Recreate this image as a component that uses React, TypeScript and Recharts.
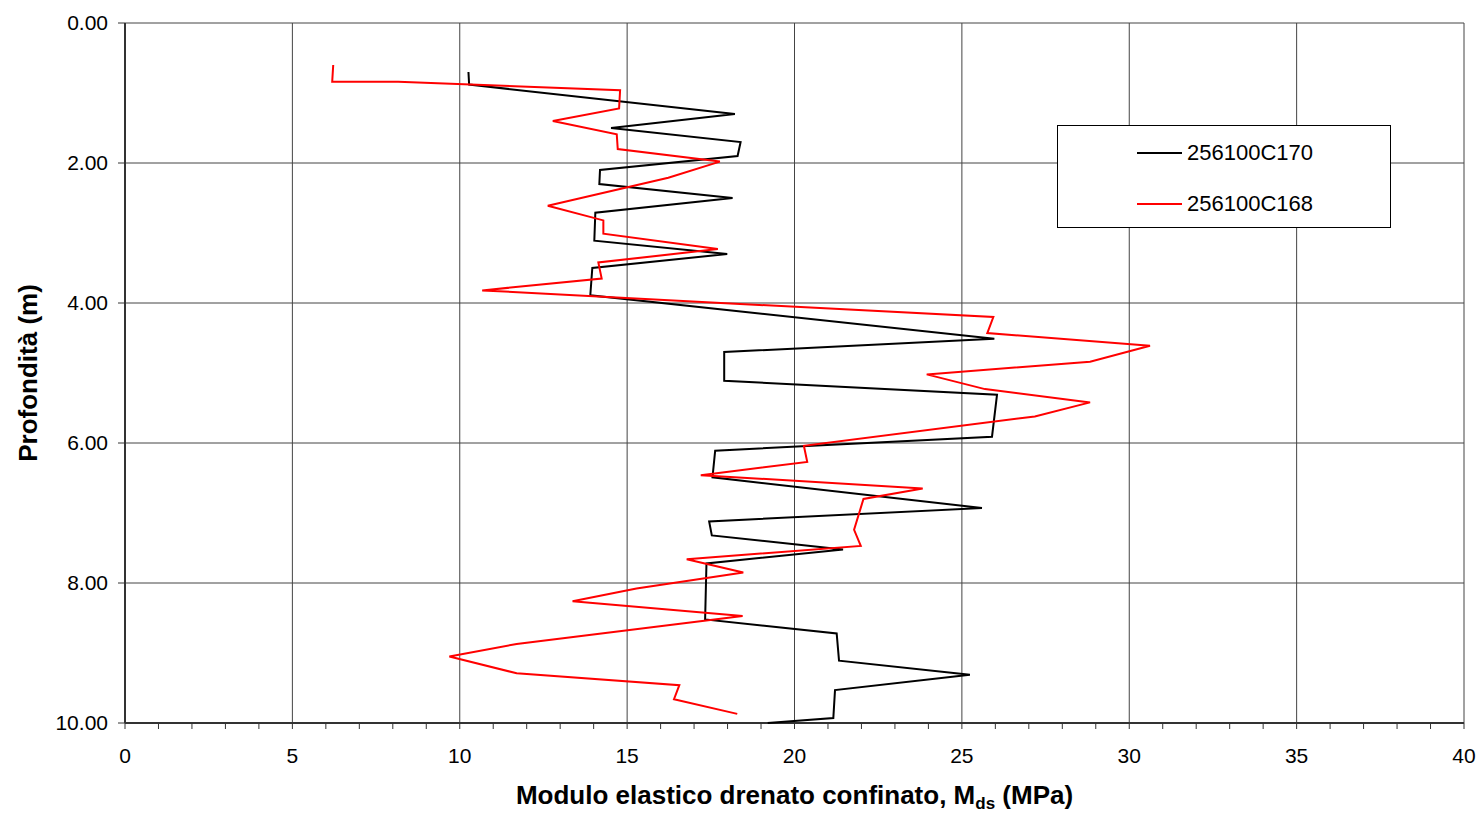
import React from 'react';
import {
  ScatterChart,
  Scatter,
  XAxis,
  YAxis,
  CartesianGrid,
  ReferenceLine,
} from 'recharts';

const FONT = '"Liberation Sans", Arial, sans-serif';

// axis ticks
const xTicks = Array.from({ length: 41 }, (_, i) => i);
const xGrid = [5, 10, 15, 20, 25, 30, 35, 40];
const yTicks = [0, 2, 4, 6, 8, 10];

// 256100C170 (black)
const depthC170 = [
  0.7, 0.88, 1.3, 1.5, 1.7, 1.9, 2.1, 2.3, 2.5, 2.71, 3.11, 3.3, 3.5, 3.89,
  4.51, 4.7, 5.11, 5.31, 5.91, 6.11, 6.49, 6.93, 7.12, 7.32, 7.52, 7.72, 8.52,
  8.72, 9.11, 9.31, 9.53, 9.93, 10.0,
];
const modC170 = [
  10.26, 10.28, 18.22, 14.52, 18.39, 18.3, 14.19, 14.17, 18.15, 14.05, 14.02,
  17.99, 13.96, 13.9, 25.97, 17.9, 17.9, 26.05, 25.9, 17.63, 17.55, 25.6,
  17.45, 17.53, 21.45, 17.37, 17.33, 21.26, 21.33, 25.24, 21.21, 21.16, 19.2,
];

// 256100C168 (red)
const depthC168 = [
  0.6, 0.84, 0.84, 0.96, 1.22, 1.4, 1.59, 1.8, 1.98, 2.21, 2.61, 2.82, 3.01,
  3.23, 3.42, 3.65, 3.82, 4.0, 4.2, 4.43, 4.61, 4.84, 5.02, 5.23, 5.42, 5.62,
  6.04, 6.27, 6.46, 6.65, 6.8, 7.24, 7.47, 7.66, 7.85, 8.08, 8.26, 8.47, 8.87,
  9.05, 9.29, 9.46, 9.66, 9.87,
];
const modC168 = [
  6.22, 6.19, 8.16, 14.79, 14.76, 12.78, 14.69, 14.72, 17.77, 16.23, 12.63,
  14.29, 14.29, 17.71, 14.14, 14.24, 10.67, 17.8, 25.94, 25.76, 30.62, 28.83,
  23.95, 25.69, 28.83, 27.18, 20.28, 20.38, 17.2, 23.83, 22.06, 21.78, 21.98,
  16.78, 18.47, 15.28, 13.37, 18.45, 11.7, 9.69, 11.7, 16.56, 16.4, 18.29,
];

const series = [
  { name: '256100C170', color: '#000000', depth: depthC170, mod: modC170 },
  { name: '256100C168', color: '#ff0000', depth: depthC168, mod: modC168 },
];

const toPoints = (depth: number[], mod: number[]) =>
  depth.map((d, i) => ({ m: mod[i], d }));

const XTick = ({ x, y, payload }: any) => {
  if (payload.value % 5 !== 0) return <g />;
  return (
    <text x={x} y={y} dy="0.71em" textAnchor="middle" fontSize={21} fontFamily={FONT} fill="#000">
      {payload.value}
    </text>
  );
};

const XTitle = ({ viewBox }: any) => {
  const cx = viewBox.x + viewBox.width / 2;
  return (
    <text x={cx} y={viewBox.y + 81} textAnchor="middle" fontSize={26} fontWeight="bold" fontFamily={FONT} fill="#000">
      <tspan>Modulo elastico drenato confinato, M</tspan>
      <tspan fontSize={17} dy={5}>ds</tspan>
      <tspan dy={-5}> (MPa)</tspan>
    </text>
  );
};

const YTitle = ({ viewBox }: any) => {
  const cy = viewBox.y + viewBox.height / 2;
  const x = 37;
  return (
    <text
      x={x}
      y={cy}
      transform={`rotate(-90, ${x}, ${cy})`}
      textAnchor="middle"
      fontSize={26}
      fontWeight="bold"
      fontFamily={FONT}
      fill="#000"
    >
      Profondità (m)
    </text>
  );
};

export default function App() {
  return (
    <div style={{ position: 'absolute', left: 0, top: 0, width: 1481, height: 814, background: '#fff' }}>
      <ScatterChart width={1481} height={814} margin={{ top: 23, right: 17, bottom: 0, left: 0 }}>
        <CartesianGrid vertical={false} stroke="#444" strokeWidth={1} />
        {xGrid.map((v) => (
          <ReferenceLine key={v} x={v} stroke="#444" strokeWidth={1} />
        ))}
        <XAxis
          type="number"
          dataKey="m"
          domain={[0, 40]}
          ticks={xTicks}
          interval={0}
          height={91}
          tickSize={6}
          tickMargin={19}
          tick={<XTick />}
          axisLine={{ stroke: '#333', strokeWidth: 2 }}
          tickLine={{ stroke: '#333' }}
          label={<XTitle />}
        />
        <YAxis
          type="number"
          dataKey="d"
          domain={[0, 10]}
          reversed
          ticks={yTicks}
          interval={0}
          width={125}
          tickSize={7}
          tickMargin={10}
          tickFormatter={(v: number) => v.toFixed(2)}
          tick={{ fontSize: 21, fontFamily: FONT, fill: '#000' }}
          axisLine={{ stroke: '#333', strokeWidth: 2 }}
          tickLine={{ stroke: '#333' }}
          label={<YTitle />}
        />
        {series.map((s) => (
          <Scatter
            key={s.name}
            name={s.name}
            data={toPoints(s.depth, s.mod)}
            line={{ stroke: s.color, strokeWidth: 2 }}
            lineType="joint"
            shape={() => <g />}
            fill={s.color}
            isAnimationActive={false}
          />
        ))}
      </ScatterChart>

      {/* Legend */}
      <div
        style={{
          position: 'absolute',
          left: 1057,
          top: 125,
          width: 332,
          height: 101,
          border: '1px solid #000',
          background: '#fff',
          fontFamily: FONT,
          fontSize: 22,
        }}
      >
        {series.map((s, i) => (
          <div
            key={s.name}
            style={{ position: 'absolute', left: 79, top: 27 + i * 51 - 13, height: 26, display: 'flex', alignItems: 'center' }}
          >
            <div style={{ width: 45, height: 2, background: s.color, marginRight: 5 }} />
            <span>{s.name}</span>
          </div>
        ))}
      </div>
    </div>
  );
}
